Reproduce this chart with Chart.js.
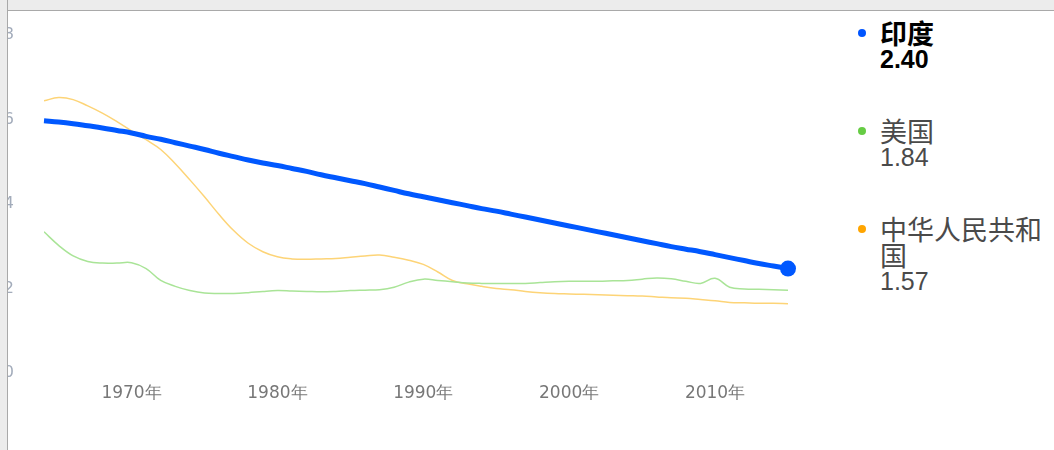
<!DOCTYPE html>
<html>
<head>
<meta charset="utf-8">
<script src="https://cdn.jsdelivr.net/npm/chart.js@4.4.0/dist/chart.umd.min.js"></script>
<style>
  html, body { margin: 0; padding: 0; background: #fff; width: 1054px; height: 450px; overflow: hidden; }
  #chart { position: absolute; left: 0; top: 0; }
  #frameTop { position: absolute; left: 0; top: 0; width: 1054px; height: 10px; background: #ececec; border-bottom: 1px solid #a9a9a9; z-index: 2; }
  #frameLeft { position: absolute; left: 0; top: 0; width: 7px; height: 450px; background: #ececec; border-right: 1px solid #a9a9a9; z-index: 2; }
  #legend { position: absolute; left: 858px; top: 20px; width: 190px; font-family: "Liberation Sans", "Noto Sans CJK SC", sans-serif; font-size: 25px; color: #4a4a4a; }
  .item { position: relative; padding-left: 22px; margin-bottom: 46px; }
  .item.sel { color: #000; font-weight: bold; }
  .name { font-size: 27px; line-height: 26px; font-family: "Noto Sans CJK SC", sans-serif; }
  .val { line-height: 26px; }
  .dot { position: absolute; left: 0; top: 9px; width: 8px; height: 8px; border-radius: 50%; }
</style>
</head>
<body>
<canvas id="chart" width="830" height="450"></canvas>
<div id="frameTop"></div>
<div id="frameLeft"></div>
<div id="legend"></div>

<script>
// === Données (taux de fécondité) ===
const years = [1964, 1965, 1966, 1967, 1968, 1969, 1970, 1971, 1972, 1973,
  1974, 1975, 1976, 1977, 1978, 1979, 1980, 1981, 1982, 1983,
  1984, 1985, 1986, 1987, 1988, 1989, 1990, 1991, 1992, 1993,
  1994, 1995, 1996, 1997, 1998, 1999, 2000, 2001, 2002, 2003,
  2004, 2005, 2006, 2007, 2008, 2009, 2010, 2011, 2012, 2013,
  2014, 2015];

const india = [5.90, 5.87, 5.83, 5.78, 5.73, 5.67, 5.61, 5.53, 5.46, 5.38,
  5.30, 5.22, 5.13, 5.05, 4.97, 4.90, 4.84, 4.77, 4.70, 4.62,
  4.55, 4.48, 4.41, 4.33, 4.25, 4.17, 4.10, 4.03, 3.96, 3.89,
  3.82, 3.76, 3.69, 3.62, 3.55, 3.48, 3.41, 3.34, 3.27, 3.20,
  3.13, 3.06, 2.99, 2.92, 2.86, 2.80, 2.73, 2.66, 2.59, 2.52,
  2.46, 2.40];

const usa = [3.27, 2.95, 2.70, 2.57, 2.53, 2.53, 2.54, 2.40, 2.12, 1.98,
  1.88, 1.82, 1.81, 1.81, 1.83, 1.86, 1.88, 1.87, 1.86, 1.85,
  1.86, 1.88, 1.89, 1.90, 1.96, 2.08, 2.15, 2.12, 2.09, 2.06,
  2.05, 2.05, 2.05, 2.05, 2.07, 2.09, 2.10, 2.10, 2.10, 2.11,
  2.12, 2.15, 2.18, 2.16, 2.10, 2.05, 2.17, 1.96, 1.92, 1.91,
  1.90, 1.89];

const china = [6.37, 6.45, 6.40, 6.25, 6.08, 5.88, 5.66, 5.45, 5.22, 4.88,
  4.50, 4.10, 3.68, 3.30, 3.00, 2.80, 2.68, 2.63, 2.62, 2.63,
  2.64, 2.67, 2.70, 2.72, 2.67, 2.60, 2.50, 2.32, 2.12, 2.04,
  1.98, 1.93, 1.90, 1.86, 1.83, 1.81, 1.80, 1.79, 1.78, 1.77,
  1.76, 1.75, 1.73, 1.71, 1.70, 1.67, 1.64, 1.60, 1.59, 1.58,
  1.58, 1.57];

const seriesNames = ["印度", "美国", "中华人民共和国"];
const latestValues = ["2.40", "1.84", "1.57"];
const dotColors = ["#0055ff", "#66cc44", "#ffa500"];
const lineColors = ["#0058ff", "#a9e497", "#fdd477"];

const xTicks = [1970, 1980, 1990, 2000, 2010];
const yTicks = [0, 2, 4, 6, 8];

// === Légende à droite ===
const legend = document.getElementById("legend");
seriesNames.forEach((name, i) => {
  const div = document.createElement("div");
  div.className = "item" + (i === 0 ? " sel" : "");
  div.innerHTML = `<span class="dot" style="background:${dotColors[i]}"></span><div class="name">${name}</div><div class="val">${latestValues[i]}</div>`;
  legend.appendChild(div);
});

function toPoints(values) {
  return years.map((y, i) => ({ x: y, y: values[i] }));
}

const lastIndex = years.length - 1;

new Chart(document.getElementById("chart").getContext("2d"), {
  type: "line",
  data: {
    datasets: [
      {
        label: seriesNames[0],
        data: toPoints(india),
        borderColor: lineColors[0],
        backgroundColor: lineColors[0],
        borderWidth: 5,
        tension: 0.4,
        clip: false,
        pointRadius: ctx => ctx.dataIndex === lastIndex ? 8 : 0,
        pointBorderWidth: 0
      },
      {
        label: seriesNames[1],
        data: toPoints(usa),
        borderColor: lineColors[1],
        borderWidth: 1.5,
        tension: 0.4,
        pointRadius: 0
      },
      {
        label: seriesNames[2],
        data: toPoints(china),
        borderColor: lineColors[2],
        borderWidth: 1.5,
        tension: 0.4,
        pointRadius: 0
      }
    ]
  },
  options: {
    responsive: false,
    animation: false,
    events: [],
    layout: { padding: { top: 32, right: 42, left: 0, bottom: 0 } },
    plugins: {
      legend: { display: false },
      tooltip: { enabled: false }
    },
    scales: {
      x: {
        type: "linear",
        min: 1964,
        max: 2015,
        grid: { display: false, drawTicks: false },
        border: { display: false },
        afterBuildTicks: s => { s.ticks = xTicks.map(v => ({ value: v })); },
        afterFit: s => { s.height = 80; s.paddingLeft = 0; s.paddingRight = 0; },
        ticks: {
          callback: v => v + "年",
          color: "#777",
          font: { family: "DejaVu Sans", size: 17 },
          padding: 13,
          maxRotation: 0,
          autoSkip: false
        }
      },
      y: {
        min: 0,
        max: 8,
        grid: { display: false, drawTicks: false },
        border: { display: false },
        afterBuildTicks: s => { s.ticks = yTicks.map(v => ({ value: v })); },
        afterFit: s => { s.width = 44; s.paddingTop = 0; s.paddingBottom = 0; },
        ticks: {
          color: "#a3acbb",
          font: { family: "DejaVu Sans", size: 16 },
          padding: 30,
          labelOffset: 3
        }
      }
    }
  }
});
</script>
</body>
</html>
